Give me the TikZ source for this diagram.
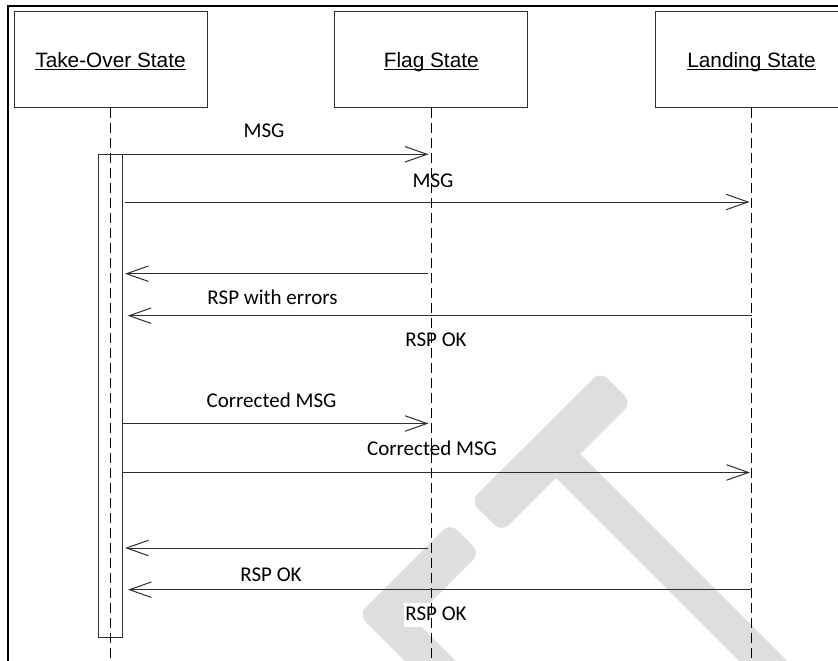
\documentclass[tikz,border=0pt]{standalone}
\usepackage{fontspec}
\setmainfont{Carlito}
\newfontfamily\arialf{Liberation Sans}
\usetikzlibrary{arrows.meta}
\definecolor{wm}{RGB}{222,222,222}
\definecolor{ln}{RGB}{45,45,45}
\newcommand\ulbox[1]{\setbox0\hbox{#1}\rlap{\vrule width\wd0 height -1.5pt depth 2.7pt}\box0}
\begin{document}
\begin{tikzpicture}[x=1pt,y=-1pt,
  objbox/.style={draw=ln,line width=1pt,minimum width=193pt,minimum height=95.5pt,inner sep=0pt,
    font=\arialf\fontsize{20.8}{24}\selectfont,text height=15pt,text depth=0pt},
  life/.style={draw=black,line width=1pt,dash pattern=on 10pt off 5pt},
  msg/.style={draw=ln,line width=1pt,-{Straight Barb[length=22pt,width=15.5pt,line width=1pt]}},
  lbl/.style={font=\fontsize{21}{25}\selectfont,anchor=base,inner sep=1pt,fill=white,text height=17pt,text depth=5pt},
  barbox/.style={draw=ln,line width=1pt,minimum width=24pt,minimum height=483.7pt,inner sep=0pt}
]
\useasboundingbox (0,0) rectangle (838,661);
\clip (0,0) rectangle (838,661);
% watermark
\fill[wm,rounded corners=10pt] (486,516.5) -- (501.6,532.1) -- (631.6,402.6) -- (600.4,371.4) -- (470.4,500.9) -- cycle;
\fill[wm] (549,471) -- (778,700) -- (826,700) -- (573,447) -- cycle;
\fill[wm,rounded corners=10pt] (470,700) -- (495,700) -- (414,619) -- (480,553) -- (450,523) -- (358.5,614.5) -- (444,700) -- cycle;
% frame
\draw[line width=2.6pt] (8,670) -- (8,6) -- (845,6);
% objects
\node[objbox] (T) at (110.5,59.5) {\ulbox{Take-Over State}};
\node[objbox] (F) at (431.3,59.5) {\ulbox{Flag State}};
\node[objbox] (L) at (751.5,59.5) {\ulbox{Landing State}};
\coordinate (Tend) at (110.5,665);
\coordinate (Fend) at (431.3,665);
\coordinate (Lend) at (751.5,665);
% labels
\node[lbl] (l1) at (264,137.5) {MSG};
\node[lbl] (l2) at (433,187) {MSG};
\node[lbl] (l3) at (272.5,304) {RSP with errors};
\node[lbl] (l4) at (436,346.5) {RSP OK};
\node[lbl] (l5) at (271.5,407) {Corrected MSG};
\node[lbl] (l6) at (432,455.3) {Corrected MSG};
\node[lbl] (l7) at (271,581) {RSP OK};
\node[lbl] (l8) at (436,620.5) {RSP OK};
% lifelines
\draw[life] (T.south) -- (Tend);
\draw[life] (F.south) -- (Fend);
\draw[life] (L.south) -- (Lend);
% activation bar
\node[barbox] (bar) at (110.6,395.85) {};
% message end points
\coordinate (m1a) at (122.5,154.3); \coordinate (m1b) at (428.5,154.3);
\coordinate (m2a) at (125,202);     \coordinate (m2b) at (749.5,202);
\coordinate (m3a) at (428,273.7);   \coordinate (m3b) at (125,273.7);
\coordinate (m4a) at (751.5,315.7); \coordinate (m4b) at (127.7,315.7);
\coordinate (m5a) at (122.5,423.5); \coordinate (m5b) at (428.5,423.5);
\coordinate (m6a) at (122.5,472.5); \coordinate (m6b) at (750,472.5);
\coordinate (m7a) at (428,548);     \coordinate (m7b) at (125,548);
\coordinate (m8a) at (751.5,589.7); \coordinate (m8b) at (128,589.7);
\draw[msg] (m1a) -- (m1b);
\draw[msg] (m2a) -- (m2b);
\draw[msg] (m3a) -- (m3b);
\draw[msg] (m4a) -- (m4b);
\draw[msg] (m5a) -- (m5b);
\draw[msg] (m6a) -- (m6b);
\draw[msg] (m7a) -- (m7b);
\draw[msg] (m8a) -- (m8b);
\end{tikzpicture}
\end{document}
